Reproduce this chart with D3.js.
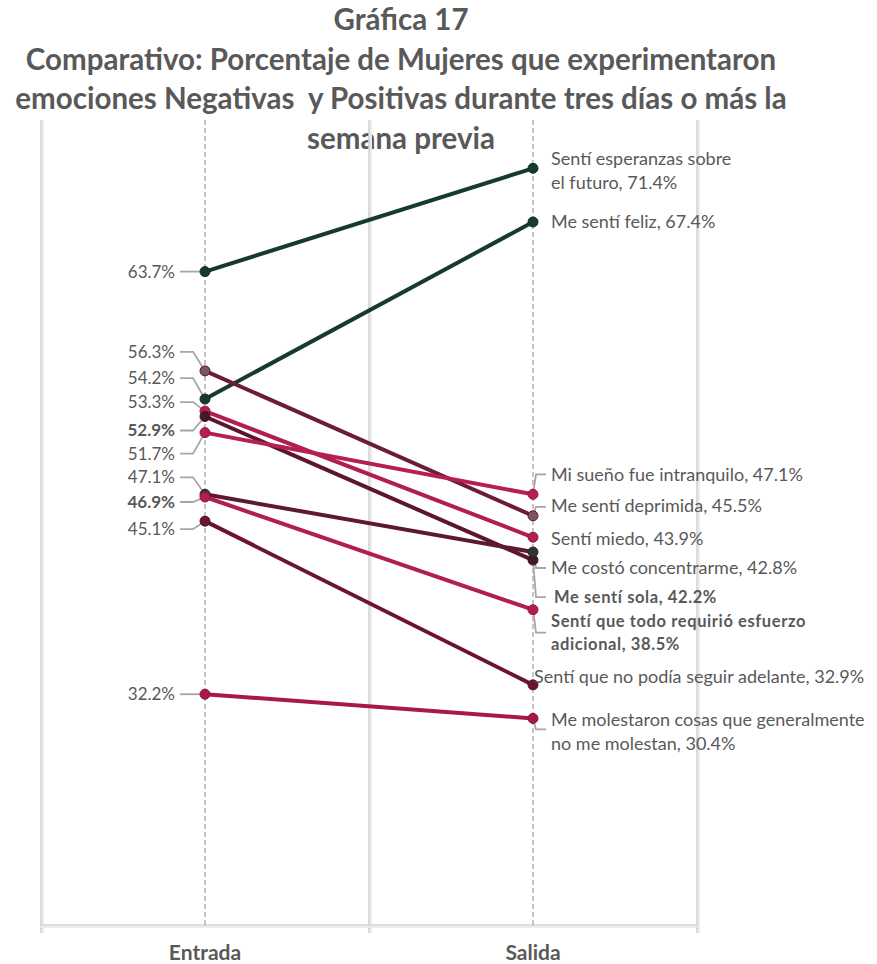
<!DOCTYPE html>
<html><head><meta charset="utf-8">
<script src="https://cdn.jsdelivr.net/npm/d3@7"></script>
<style>
html,body{margin:0;padding:0;background:#fff;}
svg{display:block;font-family:Lato, "Noto Sans", sans-serif;}
text{white-space:pre;}
</style></head>
<body>
<svg id="chart" width="877" height="964"></svg>
<script>
// ---- data ----
const titleLines = ["Gráfica 17","Comparativo: Porcentaje de Mujeres que experimentaron","emociones Negativas  y Positivas durante tres días o más la","semana previa"];
const periods = ["Entrada","Salida"];
const emotions = [
  "Sentí esperanzas sobre el futuro",
  "Me sentí feliz",
  "Me sentí deprimida",
  "Sentí miedo",
  "Me sentí sola",
  "Mi sueño fue intranquilo",
  "Me costó concentrarme",
  "Sentí que todo requirió esfuerzo adicional",
  "Sentí que no podía seguir adelante",
  "Me molestaron cosas que generalmente no me molestan"
];
const entradaValues = [63.7, 54.2, 56.3, 53.3, 52.9, 51.7, 47.1, 46.9, 45.1, 32.2];
const salidaValues  = [71.4, 67.4, 45.5, 43.9, 42.2, 47.1, 42.8, 38.5, 32.9, 30.4];
const boldLabels    = [false,false,false,false,true,false,false,true,false,false];
const rightLabelLines = [
  ["Sentí esperanzas sobre","el futuro, 71.4%"],
  ["Me sentí feliz, 67.4%"],
  ["Me sentí deprimida, 45.5%"],
  ["Sentí miedo, 43.9%"],
  ["Me sentí sola, 42.2%"],
  ["Mi sueño fue intranquilo, 47.1%"],
  ["Me costó concentrarme, 42.8%"],
  ["Sentí que todo requirió esfuerzo","adicional, 38.5%"],
  ["Sentí que no podía seguir adelante, 32.9%"],
  ["Me molestaron cosas que generalmente","no me molestan, 30.4%"]
];
const yTicks = [15, 75];

// ---- styles / layout (not data) ----
const lineColors = ["#163a2c","#163a2c","#6b1c38","#b01f4f","#5e1530","#b5204f","#5c1a30","#b01f4f","#6a1430","#a81848"];
const dotColors  = ["#163a2c","#163a2c","#7d5662","#b01f4f","#3c1c26","#b5204f","#2a3a30","#b01f4f","#6a1430","#a81848"];
// label offsets in px relative to the dot
const leftOff  = [0,-21,-19,-9,14,21,-17,5,8,0];
const rightOff = [-10,0,-10,1,37,-20,16,12,-8,1];
const rightLeader = [null,null,-9,null,37,-20,16,23,null,11];
const rightDx = [18,18,18,18,21,18,18,18,1,18];

const svg = d3.select("#chart");
const gray = "#595959";

const x = d3.scaleBand().domain(periods).range([41, 697]).padding(0);
const y = d3.scaleLinear().domain(d3.extent(yTicks)).range([925, 120]);

// title
svg.append("g").selectAll("text").data(titleLines).join("text")
  .attr("x", 401).attr("y", (d,i)=> 30 + i*39.5)
  .attr("text-anchor","middle")
  .attr("font-size", 29.5).attr("font-weight", 700).attr("fill", gray)
  .text(d=>d);

// gridlines (category boundaries)
const bounds = [x.range()[0], ...periods.map(p=>x(p)+x.bandwidth())];
const grid = svg.append("g");
bounds.forEach(b=>{
  grid.append("line").attr("x1",b+1.5).attr("x2",b+1.5).attr("y1",y.range()[1]).attr("y2",y.range()[0]+8)
    .attr("stroke","#ececec").attr("stroke-width",3);
  grid.append("line").attr("x1",b).attr("x2",b).attr("y1",y.range()[1]).attr("y2",y.range()[0]+8)
    .attr("stroke","#d4d4d4").attr("stroke-width",1.6);
});
grid.append("line").attr("x1",bounds[0]).attr("x2",bounds[bounds.length-1])
  .attr("y1",y.range()[0]+1.5).attr("y2",y.range()[0]+1.5).attr("stroke","#ececec").attr("stroke-width",3);
grid.append("line").attr("x1",bounds[0]).attr("x2",bounds[bounds.length-1])
  .attr("y1",y.range()[0]).attr("y2",y.range()[0]).attr("stroke","#d4d4d4").attr("stroke-width",1.6);

// dashed center lines
periods.forEach(p=>{
  const cx = x(p)+x.bandwidth()/2;
  svg.append("line").attr("x1",cx).attr("x2",cx).attr("y1",y.range()[1]).attr("y2",y.range()[0])
    .attr("stroke","#a6a6a6").attr("stroke-width",1.3).attr("stroke-dasharray","5,3");
});

// axis labels
svg.append("g").selectAll("text").data(periods).join("text")
  .attr("x", p=>x(p)+x.bandwidth()/2).attr("y", 960)
  .attr("text-anchor","middle").attr("font-size",21).attr("font-weight",700).attr("fill",gray)
  .text(d=>d);

const xL = x("Entrada")+x.bandwidth()/2;
const xR = x("Salida")+x.bandwidth()/2;

// leaders
const leaders = svg.append("g").attr("fill","none").attr("stroke","#a6a6a6").attr("stroke-width",1.8);
entradaValues.forEach((v,i)=>{
  const dy = y(v), ly = dy + leftOff[i];
  leaders.append("polyline").attr("points", `${xL-25},${ly} ${xL-12},${ly} ${xL},${dy}`);
});
salidaValues.forEach((v,i)=>{
  if (rightLeader[i]===null) return;
  const dy = y(v), ly = dy + rightLeader[i];
  leaders.append("polyline").attr("points", `${xR},${dy} ${xR+3},${ly} ${xR+13},${ly}`);
});

// lines
const lg = svg.append("g");
emotions.forEach((e,i)=>{
  lg.append("line").attr("x1",xL).attr("y1",y(entradaValues[i])).attr("x2",xR).attr("y2",y(salidaValues[i]))
    .attr("stroke",lineColors[i]).attr("stroke-width",4).attr("stroke-linecap","round");
});
emotions.forEach((e,i)=>{
  [[xL,entradaValues[i]],[xR,salidaValues[i]]].forEach(([cx,v])=>{
    lg.append("circle").attr("cx",cx).attr("cy",y(v)).attr("r",5)
      .attr("fill",dotColors[i]).attr("stroke",d3.color(lineColors[i]).darker(0.6)).attr("stroke-width",1);
  });
});

// left labels
svg.append("g").selectAll("text").data(entradaValues).join("text")
  .attr("x", xL-30).attr("y",(v,i)=>y(v)+leftOff[i]).attr("dy","0.35em")
  .attr("text-anchor","end").attr("font-size",17).attr("fill",gray)
  .attr("font-weight",(v,i)=>boldLabels[i]?700:400)
  .text(v=>v.toFixed(1)+"%");

// right labels
const rl = svg.append("g");
salidaValues.forEach((v,i)=>{
  const t = rl.append("text").attr("x", xR+rightDx[i]).attr("y", y(v)+rightOff[i])
    .attr("font-size", boldLabels[i]?16.5:18).attr("fill",gray).attr("font-weight", boldLabels[i]?700:400)
    .attr("letter-spacing", boldLabels[i]?0.6:0);
  rightLabelLines[i].forEach((line,j)=>{
    t.append("tspan").attr("x", xR+rightDx[i]).attr("dy", j===0?"0.35em":"1.35em").text(line);
  });
});
</script>
</body></html>
